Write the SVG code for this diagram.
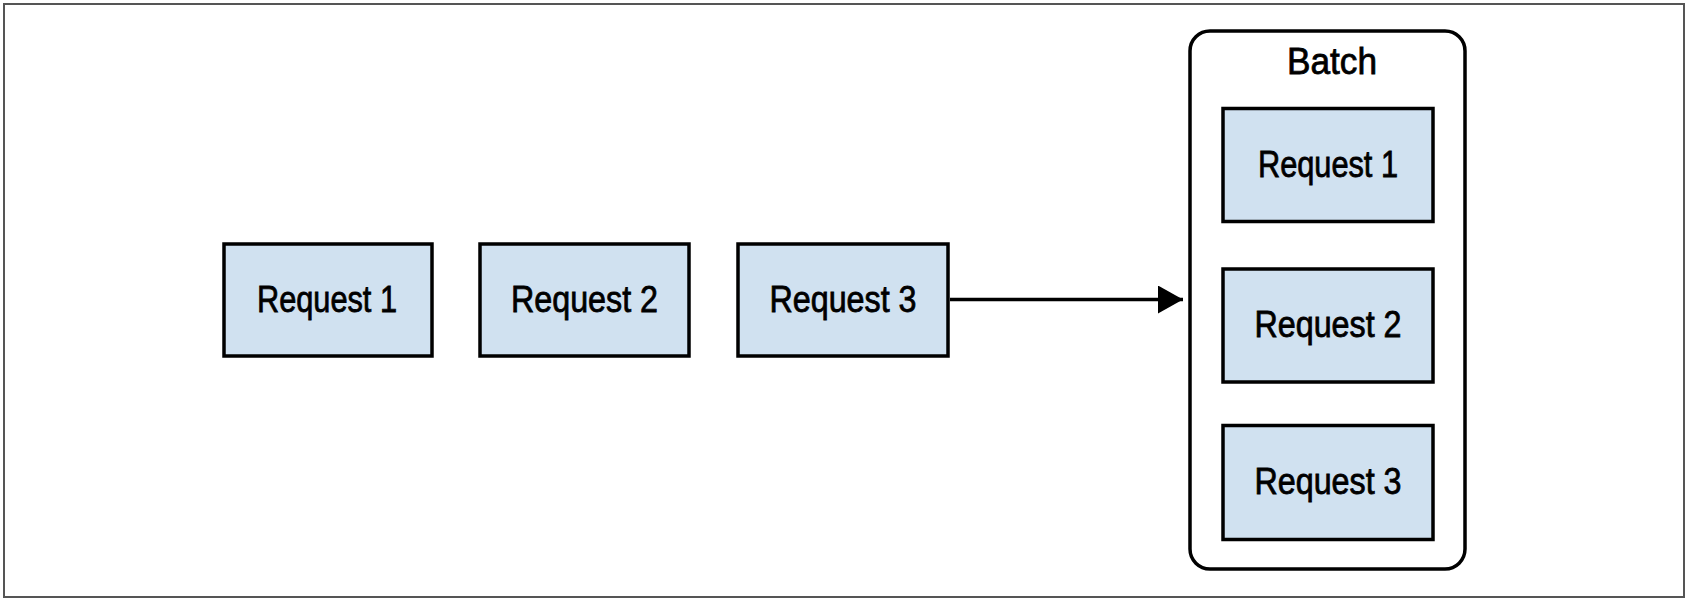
<svg xmlns="http://www.w3.org/2000/svg" width="1690" height="602" viewBox="0 0 1690 602">
  <style>
    .req { fill: #d0e1f0; stroke: #000; stroke-width: 3.5; }
    .label { font-family: "Liberation Sans", Arial, sans-serif; font-size: 37.5px; fill: #000; stroke: #000; stroke-width: 0.8; text-anchor: middle; }
    .edge { stroke: #000; stroke-width: 3.5; fill: none; }
  </style>
  <defs>
    <marker id="arrow" markerUnits="userSpaceOnUse" markerWidth="26" markerHeight="28" refX="25" refY="14" orient="auto">
      <path d="M0,0 L25,14 L0,28 Z" fill="#000"/>
    </marker>
  </defs>

  <rect width="1690" height="602" fill="#fff"/>
  <!-- outer frame -->
  <rect x="4" y="4" width="1680" height="593" fill="none" stroke="#555" stroke-width="2"/>

  <!-- pending requests -->
  <g id="req1">
    <rect class="req" x="224" y="244" width="208" height="112"/>
    <text class="label" x="327" y="312" textLength="140" lengthAdjust="spacingAndGlyphs">Request 1</text>
  </g>
  <g id="req2">
    <rect class="req" x="480" y="244" width="209" height="112"/>
    <text class="label" x="584.5" y="312" textLength="147" lengthAdjust="spacingAndGlyphs">Request 2</text>
  </g>
  <g id="req3">
    <rect class="req" x="738" y="244" width="210" height="112"/>
    <text class="label" x="843" y="312" textLength="147" lengthAdjust="spacingAndGlyphs">Request 3</text>
  </g>

  <!-- batch container -->
  <g id="batch">
    <rect x="1190" y="31" width="275" height="538" rx="20" ry="20" fill="#fff" stroke="#000" stroke-width="3.5"/>
    <text class="label" x="1332" y="74" textLength="90" lengthAdjust="spacingAndGlyphs">Batch</text>
  </g>
  <g id="batch-req1">
    <rect class="req" x="1223" y="108.5" width="210" height="113"/>
    <text class="label" x="1328" y="177" textLength="140" lengthAdjust="spacingAndGlyphs">Request 1</text>
  </g>
  <g id="batch-req2">
    <rect class="req" x="1223" y="269" width="210" height="113"/>
    <text class="label" x="1328" y="337" textLength="147" lengthAdjust="spacingAndGlyphs">Request 2</text>
  </g>
  <g id="batch-req3">
    <rect class="req" x="1223" y="425.5" width="210" height="114"/>
    <text class="label" x="1328" y="494" textLength="147" lengthAdjust="spacingAndGlyphs">Request 3</text>
  </g>

  <!-- connectors -->
  <g id="connectors">
    <line class="edge" x1="950" y1="299.5" x2="1183" y2="299.5" marker-end="url(#arrow)"/>
  </g>
</svg>
